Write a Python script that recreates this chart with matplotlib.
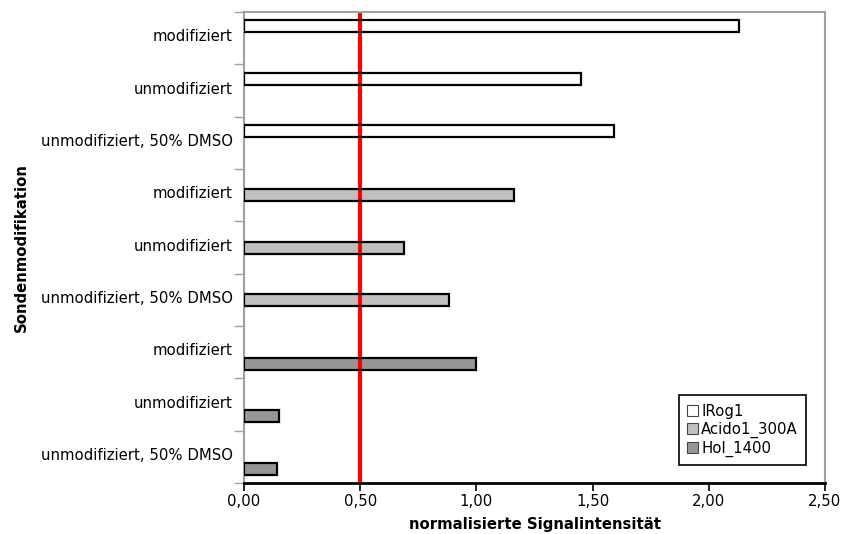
import numpy as np
import matplotlib.pyplot as plt
from matplotlib.transforms import ScaledTranslation

# probe modifications, one block of three per probe (top to bottom)
conditions = ["modifiziert", "unmodifiziert", "unmodifiziert, 50% DMSO"]
probes = ["IRog1", "Acido1_300A", "Hol_1400"]
colors = ["#ffffff", "#c0c0c0", "#969696"]

# normalised signal intensities per probe, in the order of `conditions`
irog1 = [2.13, 1.45, 1.59]
acido = [1.16, 0.69, 0.88]
hol = [1.00, 0.15, 0.14]
values = [irog1, acido, hol]

threshold = 0.5
x_ticks = [0.0, 0.5, 1.0, 1.5, 2.0, 2.5]
FS = 10.7

# -------------------------------
# figure
# -------------------------------

fig = plt.figure(figsize=(8.42, 5.34), dpi=100)
ax = fig.add_axes([0.2898, 0.0955, 0.6900, 0.8820])

n_cat = len(probes) * len(conditions)
labels = conditions * len(probes)
sub_h = 0.229  # height of one sub-bar within a category slot

for i, (name, col, vals) in enumerate(zip(probes, colors, values)):
    pos = np.arange(len(conditions)) + i * len(conditions)
    # each series sits in its own sub-slot: first at the top, last at the bottom
    y = pos + (i - 1) * sub_h
    ax.barh(y, vals, height=sub_h, color=col, edgecolor="none", zorder=1)
    ax.barh(y, vals, height=sub_h, color="none", edgecolor="black",
            linewidth=1.6, zorder=3)
    ax.barh([np.nan], [np.nan], color=col, edgecolor="#444444",
            linewidth=0.8, label=name)

ax.axvline(threshold, color="#ff0000", linewidth=3, zorder=2)

ax.set_xlim(0, 2.5)
ax.set_ylim(n_cat - 0.5, -0.5)

ax.set_xticks(x_ticks)
ax.set_xticklabels([f"{t:.2f}".replace(".", ",") for t in x_ticks], fontsize=FS)
ax.tick_params(axis="x", direction="out", length=6, width=1.2, color="black",
               pad=2)

# boundaries get tick marks, category centres get the labels
ax.set_yticks(np.arange(n_cat + 1) - 0.5)
ax.set_yticklabels([])
ax.set_yticks(np.arange(n_cat), minor=True)
ax.set_yticklabels(labels, minor=True, fontsize=FS)
ax.tick_params(axis="y", which="major", direction="out", length=7,
               width=1, color="#a0a0a0")
ax.tick_params(axis="y", which="minor", length=0, pad=8)
# nudge category labels up a little
shift = ScaledTranslation(0, 3 / 100, fig.dpi_scale_trans)
for lbl in ax.get_yticklabels(minor=True):
    lbl.set_transform(lbl.get_transform() + shift)

for side in ["top", "right", "left"]:
    ax.spines[side].set_color("#a0a0a0")
    ax.spines[side].set_linewidth(1.5)
ax.spines["bottom"].set_color("black")
ax.spines["bottom"].set_linewidth(2)

ax.set_xlabel("normalisierte Signalintensität", fontsize=FS,
              fontweight="bold", labelpad=6)
ax.set_ylabel("Sondenmodifikation", fontsize=FS, fontweight="bold",
              labelpad=9)

leg = ax.legend(loc="lower right", bbox_to_anchor=(0.967, 0.038),
                borderaxespad=0, fontsize=FS, fancybox=False, framealpha=1,
                handlelength=0.75, handleheight=0.75, handletextpad=0.2,
                borderpad=0.55, labelspacing=0.2)
leg.get_frame().set_edgecolor("black")
leg.get_frame().set_linewidth(1.2)

fig.savefig("out.png", dpi=100)
